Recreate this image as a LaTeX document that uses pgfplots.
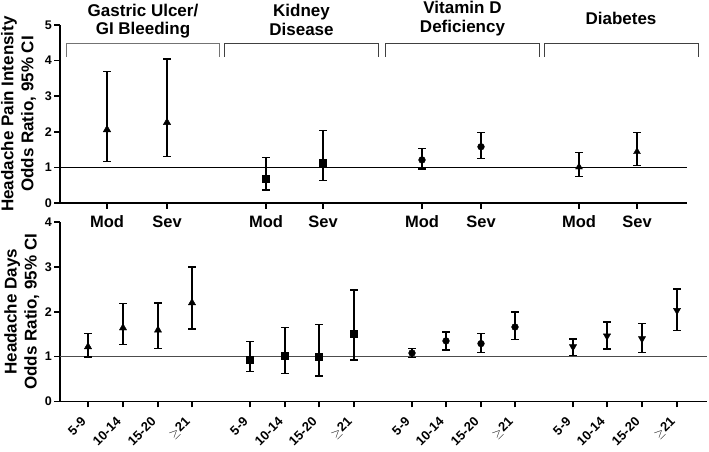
\documentclass[border=0pt]{standalone}
\usepackage{fontspec}
\setmainfont{Liberation Sans}
\usepackage{pgfplots}
\usepackage{pgfplotstable}
\pgfplotsset{compat=1.18}

% top panel: headache pain intensity (Mod / Sev)
\pgfplotstableread{
x or lo hi
107 2.06 1.17 3.69
167 2.26 1.31 4.05
}\topGastric
\pgfplotstableread{
x or lo hi
266 0.68 0.37 1.28
323 1.12 0.63 2.03
}\topKidney
\pgfplotstableread{
x or lo hi
422 1.21 0.96 1.53
481 1.58 1.25 1.98
}\topVitD
\pgfplotstableread{
x or lo hi
579 1.01 0.75 1.42
637 1.44 1.06 1.98
}\topDiab
% bottom panel: headache days (5-9, 10-14, 15-20, >=21)
\pgfplotstableread{
x or lo hi
88 1.22 0.99 1.52
123 1.64 1.27 2.18
158 1.59 1.18 2.20
192 2.20 1.62 3.00
}\botGastric
\pgfplotstableread{
x or lo hi
250 0.93 0.67 1.34
285 1.02 0.62 1.65
319 0.99 0.57 1.72
354 1.51 0.92 2.49
}\botKidney
\pgfplotstableread{
x or lo hi
412 1.08 0.98 1.18
446 1.35 1.15 1.55
481 1.29 1.09 1.52
515 1.66 1.38 1.99
}\botVitD
\pgfplotstableread{
x or lo hi
573 1.22 1.03 1.39
607 1.46 1.17 1.77
642 1.40 1.09 1.74
677 2.03 1.58 2.51
}\botDiab

\newcommand{\titlefont}{\bfseries\fontsize{17}{20}\selectfont}

\pgfplotsset{
  orstyle/.style={
    only marks, black, mark options={solid, fill=black, draw=black, line width=0.4pt},
    error bars/y dir=both, error bars/y explicit,
    error bars/error bar style={line width=1.5pt, black},
    error bars/error mark options={rotate=90, mark size=3.6pt, line width=1.5pt, black},
  },
  panel/.style={
    scale only axis,
    axis x line*=bottom, axis y line*=left,
    axis line style={line width=1.9pt},
    tick style={line width=1.6pt, black},
    tick align=outside,
    major tick length=6pt,
    /pgf/number format/assume math mode=true,
    yticklabel style={font=\bfseries\fontsize{12.5}{14}\selectfont, inner sep=2pt},
    ylabel style={font=\titlefont, align=center, anchor=center},
    clip=false,
  },
}

\begin{document}
\begin{tikzpicture}
\useasboundingbox (0,0) rectangle (709pt,452pt);

% ---------------- top panel ----------------
\begin{axis}[panel,
  at={(60pt,249pt)}, anchor=south west,
  width=627pt, height=178pt,
  xmin=60, xmax=687, ymin=0, ymax=5,
  ytick={0,1,2,3,4,5},
  xtick={107,167,266,323,422,481,579,637},
  xticklabels={Mod,Sev,Mod,Sev,Mod,Sev,Mod,Sev},
  xticklabel style={font=\bfseries\fontsize{16.5}{18}\selectfont, yshift=-3pt},
  ylabel={Headache Pain Intensity\\Odds Ratio, 95\% CI},
  ylabel style={at={(axis description cs:-0.066,0.5)}},
]
\addplot[black, line width=1pt] coordinates {(60,1) (687,1)};
\addplot+[orstyle, mark=triangle*, mark size=4.3pt] table[x=x, y=or,
  y error plus expr=\thisrow{hi}-\thisrow{or}, y error minus expr=\thisrow{or}-\thisrow{lo}] {\topGastric};
\addplot+[orstyle, mark=square*, mark size=3.6pt] table[x=x, y=or,
  y error plus expr=\thisrow{hi}-\thisrow{or}, y error minus expr=\thisrow{or}-\thisrow{lo}] {\topKidney};
\addplot+[orstyle, mark=*, mark size=3.4pt] table[x=x, y=or,
  y error plus expr=\thisrow{hi}-\thisrow{or}, y error minus expr=\thisrow{or}-\thisrow{lo}] {\topVitD};
\addplot+[orstyle, mark=triangle*, mark size=4.0pt] table[x=x, y=or,
  y error plus expr=\thisrow{hi}-\thisrow{or}, y error minus expr=\thisrow{or}-\thisrow{lo}] {\topDiab};

% group brackets
\draw[black!55, line width=1pt] (axis cs:66,4.11) |- (axis cs:219,4.475) -- (axis cs:219,4.11);
\draw[black!75, line width=1pt] (axis cs:224,4.11) |- (axis cs:378,4.475) -- (axis cs:378,4.11);
\draw[black!75, line width=1pt] (axis cs:385,4.11) |- (axis cs:539,4.475) -- (axis cs:539,4.11);
\draw[black!75, line width=1pt] (axis cs:544,4.11) |- (axis cs:698,4.475) -- (axis cs:698,4.11);

% group titles
\node[anchor=base, font=\titlefont] at (axis cs:143,5.233) {Gastric Ulcer/};
\node[anchor=base, font=\titlefont] at (axis cs:143,4.727) {GI Bleeding};
\node[anchor=base, font=\titlefont] at (axis cs:301.5,5.225) {Kidney};
\node[anchor=base, font=\titlefont] at (axis cs:301.5,4.708) {Disease};
\node[anchor=base, font=\titlefont] at (axis cs:462.5,5.317) {Vitamin D};
\node[anchor=base, font=\titlefont] at (axis cs:462.5,4.784) {Deficiency};
\node[anchor=base, font=\titlefont] at (axis cs:621,5.008) {Diabetes};
\end{axis}

% ---------------- bottom panel ----------------
\begin{axis}[panel,
  at={(60pt,50.5pt)}, anchor=south west,
  width=647pt, height=179.5pt,
  xmin=60, xmax=707, ymin=0, ymax=4,
  ytick={0,1,2,3,4},
  xtick={88,123,158,192,250,285,319,354,412,446,481,515,573,607,642,677},
  xticklabels={5-9,10-14,15-20,$\geq$21,5-9,10-14,15-20,$\geq$21,5-9,10-14,15-20,$\geq$21,5-9,10-14,15-20,$\geq$21},
  xticklabel style={font=\bfseries\fontsize{13}{15}\selectfont, xshift=-7.7pt, yshift=-7.1pt, rotate=45, anchor=north east, inner sep=1pt},
  ylabel={Headache Days\\Odds Ratio, 95\% CI},
  ylabel style={at={(axis description cs:-0.059,0.5)}},
]
\addplot[black!70, line width=1pt] coordinates {(60,1) (707,1)};
\addplot+[orstyle, mark=triangle*, mark size=4.2pt] table[x=x, y=or,
  y error plus expr=\thisrow{hi}-\thisrow{or}, y error minus expr=\thisrow{or}-\thisrow{lo}] {\botGastric};
\addplot+[orstyle, mark=square*, mark size=3.6pt] table[x=x, y=or,
  y error plus expr=\thisrow{hi}-\thisrow{or}, y error minus expr=\thisrow{or}-\thisrow{lo}] {\botKidney};
\addplot+[orstyle, mark=*, mark size=3.4pt] table[x=x, y=or,
  y error plus expr=\thisrow{hi}-\thisrow{or}, y error minus expr=\thisrow{or}-\thisrow{lo}] {\botVitD};
\addplot+[orstyle, mark=triangle*, mark size=4.2pt, mark options={rotate=180}] table[x=x, y=or,
  y error plus expr=\thisrow{hi}-\thisrow{or}, y error minus expr=\thisrow{or}-\thisrow{lo}] {\botDiab};
\end{axis}
\end{tikzpicture}
\end{document}
